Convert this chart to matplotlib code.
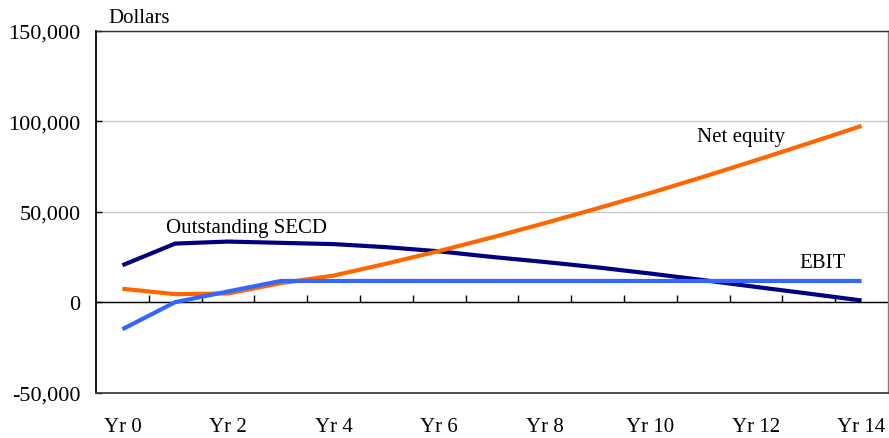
import numpy as np
import matplotlib
matplotlib.use("Agg")
import matplotlib.pyplot as plt
from matplotlib.ticker import FuncFormatter, FixedLocator, NullFormatter

plt.rcParams['font.family'] = ['Liberation Serif', 'DejaVu Serif']

# Projection years and series values (dollars)
years = np.arange(15)
year_labels = [f"Yr {y}" for y in range(0, 15, 2)]

outstanding_secd = [20400, 32400, 33500, 32800, 32100, 30400, 28100, 25000,
                    22200, 19200, 15800, 12200, 8400, 4700, 900]
net_equity = [7400, 4400, 4800, 10500, 14700, 21300, 28300, 35800,
              43700, 51900, 60400, 69300, 78500, 87900, 97500]
ebit = [-15000, 0, 5900, 11700, 11700, 11700, 11700, 11700,
        11700, 11700, 11700, 11700, 11700, 11700, 11700]

y_ticks = [-50000, 0, 50000, 100000, 150000]

fig = plt.figure(figsize=(8.89, 4.39), dpi=100)
ax = fig.add_axes([96 / 889, 45.5 / 439, 792 / 889, 361.5 / 439])

ax.plot(years, outstanding_secd, color='#000080', lw=3, solid_capstyle='butt', zorder=3)
ax.plot(years, net_equity, color='#FF6600', lw=3, solid_capstyle='butt', zorder=3)
ax.plot(years, ebit, color='#3366FF', lw=3, solid_capstyle='butt', zorder=3)

ax.set_xlim(-0.5, 14.5)
ax.set_ylim(-50000, 150000)

# y axis: inward ticks, comma-grouped labels, light horizontal grid
ax.yaxis.set_major_locator(FixedLocator(y_ticks))
ax.yaxis.set_major_formatter(FuncFormatter(lambda v, p: f"{v:,.0f}"))
ax.tick_params(axis='y', direction='in', length=4, width=1, pad=11,
               labelsize=16, colors='black')
ax.grid(axis='y', color='#c8c8c8', lw=1)
ax.set_axisbelow(True)

# x axis labels along the bottom of the frame
ax.set_xticks(range(0, 15, 2))
ax.set_xticklabels(year_labels)
ax.tick_params(axis='x', length=0, pad=18, labelsize=15)

# frame
ax.spines['left'].set_color('black')
ax.spines['left'].set_linewidth(1.3)
ax.spines['top'].set_color('#303030')
ax.spines['top'].set_linewidth(1)
ax.spines['right'].set_color('#808080')
ax.spines['right'].set_linewidth(1)
ax.spines['bottom'].set_color('#404040')
ax.spines['bottom'].set_linewidth(1.3)

# zero line with category-boundary tick marks
zero_pos = (0 - (-50000)) / 200000
zax = ax.secondary_xaxis(zero_pos)
zax.set_xticks(np.arange(0.5, 14.5, 1.0))
zax.xaxis.set_major_formatter(NullFormatter())
zax.tick_params(axis='x', direction='in', length=5, width=1, colors='black')
zax.spines['bottom'].set_color('black')
zax.spines['bottom'].set_linewidth(1)
zax.set_zorder(2)

# series labels
ax.text(0.826, 39000, "Outstanding SECD", fontsize=15, va='baseline', ha='left')
ax.text(10.877, 89100, "Net equity", fontsize=15, va='baseline', ha='left')
ax.text(12.83, 19300, "EBIT", fontsize=15, va='baseline', ha='left')

# unit label above the axis
ax.annotate("Dollars", xy=(108 / 889, 1 - 23 / 439), xycoords='figure fraction',
            fontsize=15, va='baseline', ha='left')

fig.savefig("out.png", dpi=100)
